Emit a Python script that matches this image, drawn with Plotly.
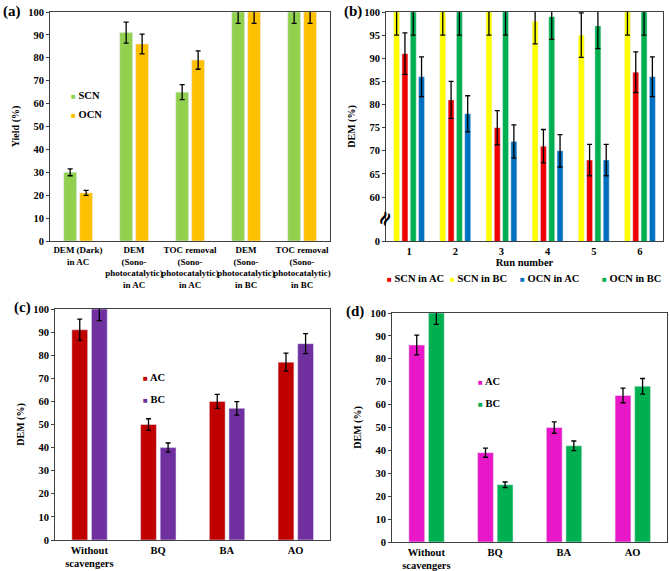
import plotly.graph_objects as go

# panel (a)
a_labels = ["DEM (Dark)<br>in AC", "DEM<br>(Sono-<br>photocatalytic)<br>in AC",
            "TOC removal<br>(Sono-<br>photocatalytic)<br>in AC",
            "DEM<br>(Sono-<br>photocatalytic)<br>in BC",
            "TOC removal<br>(Sono-<br>photocatalytic)<br>in BC"]
a_scn = [30, 91, 65, 100, 100]
a_scn_err = [1.5, 4.6, 3.3, 5, 5]
a_ocn = [21, 86, 79, 100, 100]
a_ocn_err = [1.1, 4.3, 4.0, 5, 5]

# panel (b)
runs = ["1", "2", "3", "4", "5", "6"]
scn_bc = [100, 100, 100, 98, 95, 100]
scn_bc_err = [5, 5, 5, 4.9, 4.8, 5]
scn_ac = [91, 81, 75, 71, 68, 87]
scn_ac_err = [4.5, 4.0, 3.7, 3.6, 3.4, 4.4]
ocn_bc = [100, 100, 100, 99, 97, 100]
ocn_bc_err = [5, 5, 5, 4.9, 4.9, 5]
ocn_ac = [86, 78, 72, 70, 68, 86]
ocn_ac_err = [4.3, 3.9, 3.6, 3.5, 3.4, 4.3]
b_ticks = [50.5, 60, 65, 70, 75, 80, 85, 90, 95, 100]
b_ticktext = ["0", "60", "65", "70", "75", "80", "85", "90", "95", "100"]

# panels (c) and (d)
scav = ["Without<br>scavengers", "BQ", "BA", "AO"]
c_ac = [91, 50, 60, 77]
c_ac_err = [4.6, 2.5, 3.0, 3.9]
c_bc = [100, 40, 57, 85]
c_bc_err = [5, 2.0, 2.9, 4.3]
d_ac = [86, 39, 50, 64]
d_ac_err = [4.3, 2.0, 2.5, 3.2]
d_bc = [100, 25, 42, 68]
d_bc_err = [5, 1.2, 2.1, 3.4]

W, H = 669, 571
FONT = "Liberation Serif"
AXC = "#404040"


def px_x(v):
    return v / W


def px_y(v):
    return 1 - v / H


def err(vals):
    return dict(type="data", array=vals, color="black", thickness=1.3, width=2.5)


fig = go.Figure()

# (a)
fig.add_trace(go.Bar(x=a_labels, y=a_scn, error_y=err(a_scn_err), marker_color="#92D050",
                     width=0.23, offset=-0.255, xaxis="x", yaxis="y", name="SCN", showlegend=False))
fig.add_trace(go.Bar(x=a_labels, y=a_ocn, error_y=err(a_ocn_err), marker_color="#FFC000",
                     width=0.23, offset=0.03, xaxis="x", yaxis="y", name="OCN", showlegend=False))

# (b)
b_series = [("SCN in BC", scn_bc, scn_bc_err, "#FFFF00", -0.335),
            ("SCN in AC", scn_ac, scn_ac_err, "#F00000", -0.155),
            ("OCN in BC", ocn_bc, ocn_bc_err, "#00B050", 0.025),
            ("OCN in AC", ocn_ac, ocn_ac_err, "#0070C0", 0.205)]
for name, vals, e, col, off in b_series:
    fig.add_trace(go.Bar(x=runs, y=vals, error_y=err(e), marker_color=col, width=0.13,
                         offset=off, xaxis="x2", yaxis="y2", name=name, showlegend=False))

# (c)
fig.add_trace(go.Bar(x=scav, y=c_ac, error_y=err(c_ac_err), marker_color="#C00000",
                     width=0.23, offset=-0.255, xaxis="x3", yaxis="y3", name="AC", showlegend=False))
fig.add_trace(go.Bar(x=scav, y=c_bc, error_y=err(c_bc_err), marker_color="#7030A0",
                     width=0.23, offset=0.03, xaxis="x3", yaxis="y3", name="BC", showlegend=False))

# (d)
fig.add_trace(go.Bar(x=scav, y=d_ac, error_y=err(d_ac_err), marker_color="#E818C8",
                     width=0.23, offset=-0.255, xaxis="x4", yaxis="y4", name="AC", showlegend=False))
fig.add_trace(go.Bar(x=scav, y=d_bc, error_y=err(d_bc_err), marker_color="#00B050",
                     width=0.23, offset=0.03, xaxis="x4", yaxis="y4", name="BC", showlegend=False))

ax_common = dict(showline=True, linecolor=AXC, linewidth=1, mirror=True, showgrid=False,
                 zeroline=False, automargin=False)
xa = dict(ax_common, ticks="", tickangle=0, tickfont=dict(size=10.5))
ya = dict(ax_common, ticks="outside", ticklen=3, tickcolor=AXC, tickfont=dict(size=10.5),
          range=[0, 100], dtick=10, title_font=dict(size=10), title_standoff=6)

fig.update_layout(
    width=W, height=H, margin=dict(l=0, r=0, t=0, b=0),
    paper_bgcolor="white", plot_bgcolor="white",
    font=dict(family=FONT, size=10.5, color="black", weight="bold"),
    barmode="group", showlegend=False,
    xaxis=dict(xa, domain=[px_x(50), px_x(330)], anchor="y", tickfont=dict(size=9)),
    yaxis=dict(ya, domain=[px_y(241), px_y(12)], anchor="x", title_text="Yield (%)"),
    xaxis2=dict(xa, domain=[px_x(386), px_x(663)], anchor="y2",
                title_text="Run number", title_standoff=0, title_font=dict(size=10.5)),
    yaxis2=dict(ya, domain=[px_y(241), px_y(12)], anchor="x2", range=[50.5, 100],
                tickvals=b_ticks, ticktext=b_ticktext, title_text="DEM (%)"),
    xaxis3=dict(xa, domain=[px_x(55), px_x(330)], anchor="y3"),
    yaxis3=dict(ya, domain=[px_y(540), px_y(309)], anchor="x3", title_text="DEM (%)"),
    xaxis4=dict(xa, domain=[px_x(392), px_x(667)], anchor="y4"),
    yaxis4=dict(ya, domain=[px_y(542), px_y(313)], anchor="x4", title_text="DEM (%)"),
)


def legend_item(x, y, color, text, size=10.5):
    fig.add_annotation(x=px_x(x), y=px_y(y), xref="paper", yref="paper", xanchor="left",
                       yanchor="middle", showarrow=False, font=dict(size=size),
                       text=f"<span style='color:{color};font-size:8px'>■</span> {text}")


legend_item(69, 95, "#92D050", "SCN")
legend_item(69, 115, "#FFC000", "OCN")
legend_item(385, 278, "#F00000", "SCN in AC")
legend_item(448, 278, "#FFFF00", "SCN in BC")
legend_item(518, 278, "#0070C0", "OCN in AC")
legend_item(600, 278, "#00B050", "OCN in BC")
legend_item(141, 377, "#C00000", "AC")
legend_item(141, 399, "#7030A0", "BC")
legend_item(476, 381, "#E818C8", "AC")
legend_item(476, 403, "#00B050", "BC")

for lab, x, y in [("(a)", 1, 12), ("(b)", 342, 12), ("(c)", 12, 307), ("(d)", 344, 312)]:
    fig.add_annotation(x=px_x(x), y=px_y(y), xref="paper", yref="paper", xanchor="left",
                       yanchor="middle", showarrow=False, text=lab, font=dict(size=15))

# axis break mark on (b)
fig.add_annotation(x=px_x(384), y=55.3, xref="paper", yref="y2", showarrow=False,
                   text="≈", textangle=-65, font=dict(size=20, family="DejaVu Serif"))

# page body has a default 8px margin; drop it so the figure fills the window
fig.write_html("out.html", config={"displayModeBar": False},
               post_script="document.body.style.margin='0';")
